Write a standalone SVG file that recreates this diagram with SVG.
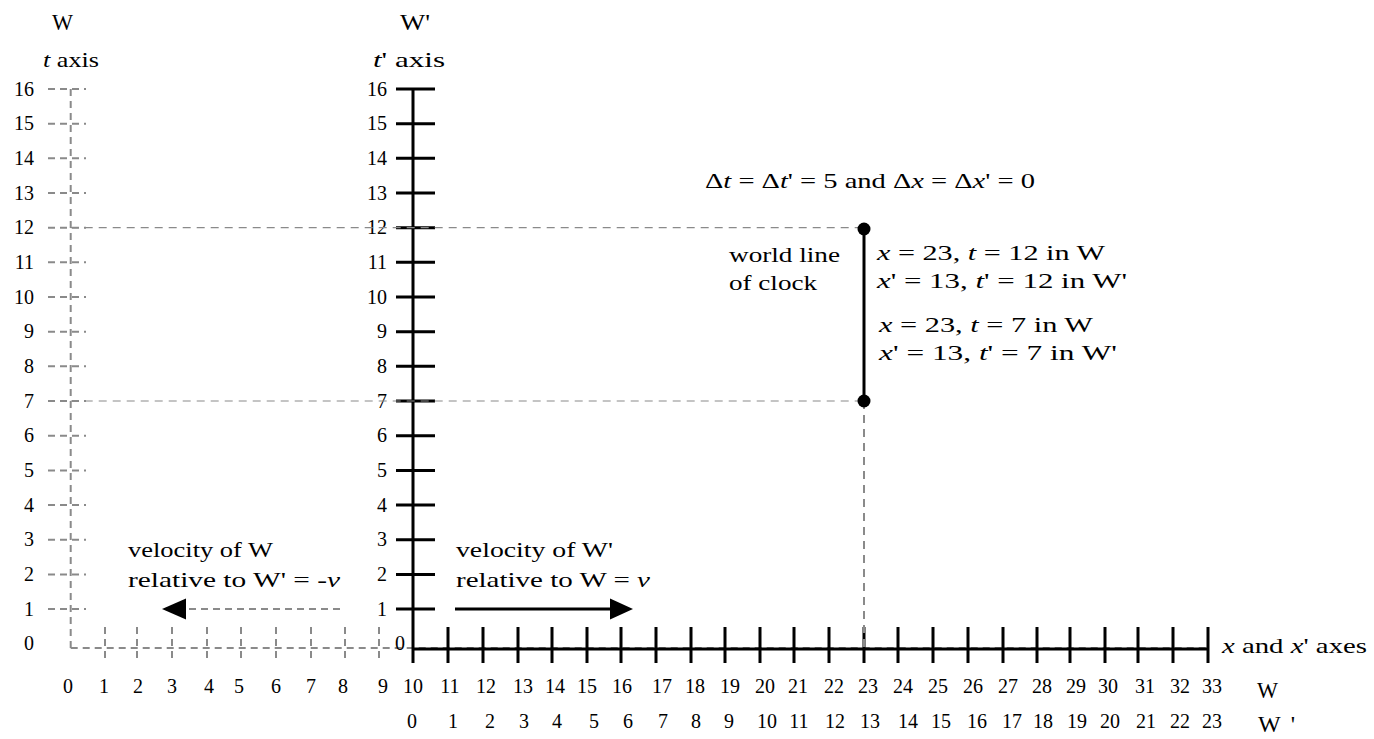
<svg xmlns="http://www.w3.org/2000/svg" width="1374" height="739" viewBox="0 0 1374 739">
<style>
text{font-family:"Liberation Serif","Times New Roman",serif;fill:#000}
.num{font-size:20px}
.lbl{font-size:21.5px}
.hdr{font-size:24px}
.it{font-style:italic}
.mid{text-anchor:middle}
.end{text-anchor:end}
.solid{stroke:#000;stroke-width:3;fill:none}
.dash{stroke:#8a8a8a;stroke-width:2;stroke-dasharray:7 5;fill:none}
.guide{stroke:#8a8a8a;stroke-width:1.2;stroke-dasharray:8 6;fill:none}
.vguide{stroke:#8a8a8a;stroke-width:2;stroke-dasharray:8 6;fill:none}
</style>
<rect width="1374" height="739" fill="#fff"/>

<g id="frame-W">
  <text class="hdr" x="52" y="30" textLength="21" lengthAdjust="spacingAndGlyphs">W</text>
  <text class="lbl" x="43" y="67" textLength="56" lengthAdjust="spacingAndGlyphs"><tspan class="it">t</tspan> axis</text>
  <path class="dash" d="M70.7 89V648M70.7 648H1208"/>
  <path class="dash" d="M48 609H86M48 574.4H86M48 539.7H86M48 505H86M48 470.4H86M48 435.7H86M48 401H86M48 366.3H86M48 331.7H86M48 297H86M48 262.3H86M48 227.7H86M48 193H86M48 158.3H86M48 123.7H86M48 89H86"/>
  <path class="dash" d="M105 627V663M137 627V663M172 627V663M207 627V663M241 627V663M276 627V663M311 627V663M345 627V663M379 627V663"/>
  <g class="num end">
    <text x="34" y="650">0</text><text x="34" y="615.5">1</text><text x="34" y="580.9">2</text><text x="34" y="546.2">3</text>
    <text x="34" y="511.5">4</text><text x="34" y="476.9">5</text><text x="34" y="442.2">6</text><text x="34" y="407.5">7</text>
    <text x="34" y="372.8">8</text><text x="34" y="338.2">9</text><text x="34" y="303.5">10</text><text x="34" y="268.8">11</text>
    <text x="34" y="234.2">12</text><text x="34" y="199.5">13</text><text x="34" y="164.8">14</text><text x="34" y="130.2">15</text>
    <text x="34" y="95.5">16</text>
  </g>
  <g class="num mid">
    <text x="68" y="693">0</text><text x="104" y="693">1</text><text x="138" y="693">2</text><text x="172" y="693">3</text>
    <text x="209" y="693">4</text><text x="239" y="693">5</text><text x="276" y="693">6</text><text x="311" y="693">7</text>
    <text x="343" y="693">8</text><text x="383" y="693">9</text><text x="413" y="693">10</text><text x="450" y="693">11</text>
    <text x="486" y="693">12</text><text x="523" y="693">13</text><text x="555" y="693">14</text><text x="587" y="693">15</text>
    <text x="622" y="693">16</text><text x="662" y="693">17</text><text x="695" y="693">18</text><text x="730" y="693">19</text>
    <text x="765" y="693">20</text><text x="798" y="693">21</text><text x="834" y="693">22</text><text x="868" y="693">23</text>
    <text x="903" y="693">24</text><text x="938" y="693">25</text><text x="973" y="693">26</text><text x="1008" y="693">27</text>
    <text x="1042" y="693">28</text><text x="1076" y="693">29</text><text x="1108" y="693">30</text><text x="1145" y="693">31</text>
    <text x="1180" y="693">32</text><text x="1212" y="693">33</text>
  </g>
  <text class="hdr" x="1257" y="698" textLength="21" lengthAdjust="spacingAndGlyphs">W</text>
</g>

<g id="frame-Wprime">
  <text class="hdr" x="400" y="30" textLength="30" lengthAdjust="spacingAndGlyphs">W'</text>
  <text class="lbl" x="373" y="67" textLength="72" lengthAdjust="spacingAndGlyphs"><tspan class="it">t</tspan>' axis</text>
  <path class="solid" d="M413 89V663M413 649H1208"/>
  <path class="solid" d="M396 609H435M396 574.4H435M396 539.7H435M396 505H435M396 470.4H435M396 435.7H435M396 401H435M396 366.3H435M396 331.7H435M396 297H435M396 262.3H435M396 227.7H435M396 193H435M396 158.3H435M396 123.7H435M396 89H435"/>
  <path class="solid" d="M448 627V663M483 627V663M518 627V663M552 627V663M587 627V663M621 627V663M656 627V663M691 627V663M725 627V663M760 627V663M794 627V663M829 627V663M864 627V663M898 627V663M933 627V663M968 627V663M1003 627V663M1037 627V663M1070 627V663M1105 627V663M1138 627V663M1173 627V663M1208 627V663"/>
  <g class="num end">
    <text x="405" y="650">0</text><text x="387" y="615.5">1</text><text x="387" y="580.9">2</text><text x="387" y="546.2">3</text>
    <text x="387" y="511.5">4</text><text x="387" y="476.9">5</text><text x="387" y="442.2">6</text><text x="387" y="407.5">7</text>
    <text x="387" y="372.8">8</text><text x="387" y="338.2">9</text><text x="387" y="303.5">10</text><text x="387" y="268.8">11</text>
    <text x="387" y="234.2">12</text><text x="387" y="199.5">13</text><text x="387" y="164.8">14</text><text x="387" y="130.2">15</text>
    <text x="387" y="95.5">16</text>
  </g>
  <g class="num mid">
    <text x="412" y="728">0</text><text x="453" y="728">1</text><text x="490" y="728">2</text><text x="524" y="728">3</text>
    <text x="557" y="728">4</text><text x="594" y="728">5</text><text x="628" y="728">6</text><text x="663" y="728">7</text>
    <text x="696" y="728">8</text><text x="729" y="728">9</text><text x="767" y="728">10</text><text x="799" y="728">11</text>
    <text x="835" y="728">12</text><text x="870" y="728">13</text><text x="908" y="728">14</text><text x="941" y="728">15</text>
    <text x="977" y="728">16</text><text x="1012" y="728">17</text><text x="1043" y="728">18</text><text x="1077" y="728">19</text>
    <text x="1110" y="728">20</text><text x="1146" y="728">21</text><text x="1180" y="728">22</text><text x="1212" y="728">23</text>
  </g>
  <text class="hdr" x="1258" y="732" textLength="37" lengthAdjust="spacing">W'</text>
  <text class="lbl" x="1222" y="653" textLength="145" lengthAdjust="spacingAndGlyphs"><tspan class="it">x</tspan> and <tspan class="it">x</tspan>' axes</text>
</g>

<g id="connectors">
  <path class="guide" d="M70.7 227.7H864M70.7 401H864"/>
  <path class="vguide" d="M864 401V649"/>
  <path class="dash" d="M340 609H186"/>
  <polygon points="162,609 186,598.5 186,619.5" fill="#000"/>
  <path class="solid" d="M455 609H612"/>
  <polygon points="633,609 610,598.5 610,619.5" fill="#000"/>
</g>

<g id="world-line">
  <path class="solid" d="M864 229V401"/>
  <circle cx="864" cy="229" r="6.5" fill="#000"/>
  <circle cx="864" cy="401" r="6.5" fill="#000"/>
  <text class="lbl" x="729" y="262" textLength="111" lengthAdjust="spacingAndGlyphs">world line</text>
  <text class="lbl" x="729" y="290" textLength="88" lengthAdjust="spacingAndGlyphs">of clock</text>
  <text class="lbl" x="877" y="260" textLength="228" lengthAdjust="spacingAndGlyphs"><tspan class="it">x</tspan>  = 23, <tspan class="it">t</tspan>  = 12 in W</text>
  <text class="lbl" x="877" y="288" textLength="250" lengthAdjust="spacingAndGlyphs"><tspan class="it">x</tspan>'  = 13, <tspan class="it">t</tspan>'  = 12 in W'</text>
  <text class="lbl" x="879" y="332" textLength="214" lengthAdjust="spacingAndGlyphs"><tspan class="it">x</tspan>  = 23, <tspan class="it">t</tspan>  = 7 in W</text>
  <text class="lbl" x="879" y="360" textLength="238" lengthAdjust="spacingAndGlyphs"><tspan class="it">x</tspan>'  = 13, <tspan class="it">t</tspan>'  = 7 in W'</text>
</g>

<g id="interval-label">
  <text class="lbl" x="705" y="188" textLength="330" lengthAdjust="spacingAndGlyphs">Δ<tspan class="it">t</tspan> = Δ<tspan class="it">t</tspan>' = 5 and Δ<tspan class="it">x</tspan> = Δ<tspan class="it">x</tspan>' = 0</text>
</g>

<g id="velocity-W">
  <text class="lbl" x="128" y="557" textLength="145" lengthAdjust="spacingAndGlyphs">velocity of W</text>
  <text class="lbl" x="128" y="587" textLength="212" lengthAdjust="spacingAndGlyphs">relative to W' =  <tspan class="it">-v</tspan></text>
</g>

<g id="velocity-Wprime">
  <text class="lbl" x="456" y="557" textLength="157" lengthAdjust="spacingAndGlyphs">velocity of W'</text>
  <text class="lbl" x="456" y="587" textLength="194" lengthAdjust="spacingAndGlyphs">relative to W =  <tspan class="it">v</tspan></text>
</g>
</svg>
